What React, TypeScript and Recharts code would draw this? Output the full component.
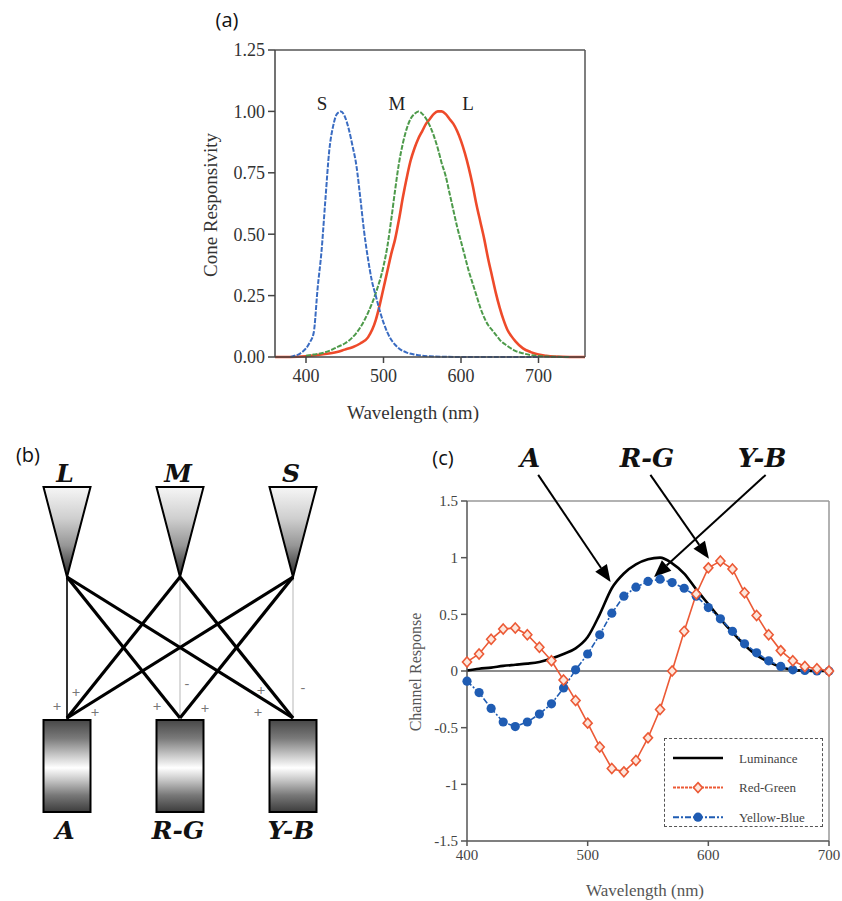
import React from 'react';
import { LineChart, Line, XAxis, YAxis, ReferenceLine, Legend } from 'recharts';

const SERIF = '"Liberation Serif", "Times New Roman", serif';
const BIG = '"DejaVu Serif", "Liberation Serif", serif';
const SANS = '"Open Sans", "Liberation Sans", sans-serif';

// (a) cone fundamentals
const S_WL = [380, 385, 390, 395, 400, 405, 410, 415, 420, 425, 430, 435, 440, 445, 450, 455, 460, 465, 470, 475, 480, 485, 490, 495, 500, 505, 510, 515, 520, 530, 540, 550, 560, 580, 600, 650, 700];
const S_VAL = [0, 0.005, 0.01, 0.02, 0.035, 0.06, 0.1, 0.28, 0.43, 0.64, 0.84, 0.94, 0.99, 1.0, 0.98, 0.93, 0.86, 0.78, 0.65, 0.51, 0.4, 0.31, 0.25, 0.19, 0.14, 0.1, 0.07, 0.05, 0.035, 0.018, 0.01, 0.005, 0.003, 0.001, 0, 0, 0];

const M_WL = [400, 410, 420, 430, 440, 450, 460, 470, 480, 490, 500, 505, 510, 515, 520, 525, 530, 535, 540, 545, 550, 555, 560, 565, 570, 575, 580, 585, 590, 595, 600, 605, 610, 615, 620, 625, 630, 635, 640, 645, 650, 660, 670, 680, 690, 700, 720, 740];
const M_VAL = [0.005, 0.01, 0.015, 0.025, 0.04, 0.055, 0.08, 0.12, 0.18, 0.26, 0.37, 0.45, 0.56, 0.68, 0.79, 0.87, 0.93, 0.97, 0.99, 1.0, 0.99, 0.97, 0.94, 0.9, 0.85, 0.79, 0.74, 0.67, 0.6, 0.53, 0.47, 0.41, 0.35, 0.3, 0.25, 0.2, 0.16, 0.13, 0.11, 0.09, 0.07, 0.045, 0.025, 0.015, 0.008, 0.004, 0.001, 0];

const L_WL = [360, 380, 400, 420, 440, 450, 460, 470, 480, 490, 495, 500, 505, 510, 515, 520, 525, 530, 535, 540, 545, 550, 555, 560, 565, 570, 575, 580, 585, 590, 595, 600, 605, 610, 615, 620, 625, 630, 635, 640, 645, 650, 655, 660, 665, 670, 680, 690, 700, 710, 720, 740, 760];
const L_VAL = [0, 0, 0.003, 0.01, 0.02, 0.03, 0.04, 0.055, 0.08, 0.15, 0.21, 0.28, 0.35, 0.42, 0.48, 0.56, 0.65, 0.73, 0.8, 0.85, 0.89, 0.92, 0.95, 0.97, 0.99, 1.0, 1.0, 0.99, 0.97, 0.95, 0.92, 0.88, 0.83, 0.77, 0.7, 0.62, 0.55, 0.48, 0.4, 0.33, 0.26, 0.2, 0.15, 0.11, 0.085, 0.065, 0.035, 0.02, 0.01, 0.005, 0.002, 0, 0];

const A_YTICKS = [0, 0.25, 0.5, 0.75, 1.0, 1.25];
const A_XTICKS = [400, 500, 600, 700];

// (c) opponent channels
const WL_C = [400, 410, 420, 430, 440, 450, 460, 470, 480, 490, 500, 510, 520, 530, 540, 550, 560, 570, 580, 590, 600, 610, 620, 630, 640, 650, 660, 670, 680, 690, 700];
const LUM = [0.005, 0.02, 0.03, 0.045, 0.055, 0.065, 0.08, 0.11, 0.15, 0.2, 0.3, 0.5, 0.73, 0.86, 0.94, 0.985, 1.0, 0.95, 0.86, 0.72, 0.59, 0.46, 0.34, 0.23, 0.14, 0.08, 0.035, 0.01, 0.003, 0, 0];
const RG = [0.08, 0.15, 0.28, 0.37, 0.38, 0.32, 0.21, 0.09, -0.08, -0.26, -0.46, -0.67, -0.86, -0.89, -0.79, -0.59, -0.34, 0.0, 0.35, 0.68, 0.91, 0.97, 0.9, 0.69, 0.49, 0.32, 0.18, 0.09, 0.04, 0.02, 0.0];
const YB = [-0.09, -0.19, -0.33, -0.45, -0.49, -0.45, -0.38, -0.29, -0.15, 0.01, 0.15, 0.32, 0.51, 0.66, 0.74, 0.79, 0.81, 0.78, 0.73, 0.66, 0.56, 0.46, 0.35, 0.24, 0.16, 0.09, 0.04, 0.01, 0.005, 0, 0];
const C_YTICKS = [-1.5, -1, -0.5, 0, 0.5, 1, 1.5];
const C_XTICKS = [400, 500, 600, 700];

// arrows from the A / R-G / Y-B labels, in data units
const ARROWS = [
  { from: [459, 1.73], to: [519, 0.785] },
  { from: [552, 1.73], to: [600.5, 0.99] },
  { from: [647.5, 1.73], to: [555, 0.83] },
];

const S_COLOR = '#3a6cc2';
const M_COLOR = '#4d9a4a';
const L_COLOR = '#ee4a2a';
const RG_COLOR = '#ec5a36';
const YB_COLOR = '#1f5cb3';

const sData = S_WL.map((w, i) => ({ wl: w, v: S_VAL[i] }));
const mData = M_WL.map((w, i) => ({ wl: w, v: M_VAL[i] }));
const lData = L_WL.map((w, i) => ({ wl: w, v: L_VAL[i] }));
const cData = WL_C.map((w, i) => ({ wl: w, lum: LUM[i], rg: RG[i], yb: YB[i] }));

const Arrow = (props: any) => {
  const { x1, y1, x2, y2 } = props;
  const dx = x2 - x1;
  const dy = y2 - y1;
  const len = Math.hypot(dx, dy) || 1;
  const ux = dx / len;
  const uy = dy / len;
  const hl = 17;
  const hw = 7;
  const bx = x2 - ux * hl;
  const by = y2 - uy * hl;
  return (
    <g>
      <line x1={x1} y1={y1} x2={bx} y2={by} stroke="#000" strokeWidth={2} />
      <polygon points={`${x2},${y2} ${bx - uy * hw},${by + ux * hw} ${bx + uy * hw},${by - ux * hw}`} fill="#000" />
    </g>
  );
};

const Diamond = (props: any) => {
  const { cx, cy, index } = props;
  if (cx == null || cy == null) return <g key={index} />;
  return (
    <path
      key={index}
      d={`M${cx},${cy - 5} L${cx + 4.5},${cy} L${cx},${cy + 5} L${cx - 4.5},${cy} Z`}
      fill="#fde6dc"
      stroke={RG_COLOR}
      strokeWidth={1.6}
    />
  );
};

const Blob = (props: any) => {
  const { cx, cy, index } = props;
  if (cx == null || cy == null) return <g key={index} />;
  return <circle key={index} cx={cx} cy={cy} r={4.6} fill={YB_COLOR} />;
};

function ChannelLegend() {
  const rows = [
    { label: 'Luminance', kind: 'lum' },
    { label: 'Red-Green', kind: 'rg' },
    { label: 'Yellow-Blue', kind: 'yb' },
  ];
  return (
    <div style={{ width: 159, height: 89, border: '1.5px dashed #555', boxSizing: 'border-box', background: '#fff' }}>
      <svg width={156} height={86}>
        {rows.map((r, i) => {
          const y = 19 + i * 29.6;
          return (
            <g key={r.kind}>
              {r.kind === 'lum' && <line x1={8} x2={58} y1={y} y2={y} stroke="#000" strokeWidth={2.5} />}
              {r.kind === 'rg' && (
                <g>
                  <line x1={8} x2={58} y1={y} y2={y} stroke={RG_COLOR} strokeWidth={2} strokeDasharray="3 1" />
                  <path d={`M33,${y - 5} L37.5,${y} L33,${y + 5} L28.5,${y} Z`} fill="#fde6dc" stroke={RG_COLOR} strokeWidth={1.6} />
                </g>
              )}
              {r.kind === 'yb' && (
                <g>
                  <line x1={8} x2={58} y1={y} y2={y} stroke={YB_COLOR} strokeWidth={2} strokeDasharray="6 2 2 2" />
                  <circle cx={33} cy={y} r={4.6} fill={YB_COLOR} />
                </g>
              )}
              <text x={74} y={y} dominantBaseline="central" fontFamily={SERIF} fontSize={13} fill="#444">
                {r.label}
              </text>
            </g>
          );
        })}
      </svg>
    </div>
  );
}

function ConeChart() {
  return (
    <LineChart width={470} height={430} margin={{ top: 50, right: 35, bottom: 43, left: 70 }}>
      <XAxis
        dataKey="wl"
        type="number"
        domain={[360, 760]}
        ticks={A_XTICKS}
        height={30}
        tickSize={6}
        tickMargin={6}
        axisLine={{ stroke: '#444', strokeWidth: 1.5 }}
        tickLine={{ stroke: '#444', strokeWidth: 1.5 }}
        tick={{ fontSize: 18, fill: '#333', fontFamily: SERIF }}
      />
      <YAxis
        type="number"
        domain={[0, 1.25]}
        ticks={A_YTICKS}
        width={55}
        tickSize={7}
        tickMargin={3}
        tickFormatter={(v: number) => v.toFixed(2)}
        axisLine={{ stroke: '#444', strokeWidth: 1.5 }}
        tickLine={{ stroke: '#444', strokeWidth: 1.5 }}
        tick={{ fontSize: 18, fill: '#333', fontFamily: SERIF }}
      />
      <ReferenceLine y={1.25} stroke="#555" strokeWidth={1.5} />
      <ReferenceLine x={760} stroke="#555" strokeWidth={1.5} />
      <Line data={lData} dataKey="v" name="L" type="monotone" stroke={L_COLOR} strokeWidth={2.6} dot={false} isAnimationActive={false} />
      <Line data={mData} dataKey="v" name="M" type="monotone" stroke={M_COLOR} strokeWidth={2} strokeDasharray="5 1.5" dot={false} isAnimationActive={false} />
      <Line data={sData} dataKey="v" name="S" type="monotone" stroke={S_COLOR} strokeWidth={2} strokeDasharray="5 1.5" dot={false} isAnimationActive={false} />
    </LineChart>
  );
}

function ChannelChart() {
  return (
    <LineChart width={502} height={471} data={cData} margin={{ top: 71, right: 13, bottom: 30, left: 82 }}>
      <XAxis
        dataKey="wl"
        type="number"
        domain={[400, 700]}
        ticks={C_XTICKS}
        height={30}
        tickSize={5}
        tickMargin={3}
        axisLine={{ stroke: '#555', strokeWidth: 1.5 }}
        tickLine={{ stroke: '#555', strokeWidth: 1.5 }}
        tick={{ fontSize: 15, fill: '#444', fontFamily: SERIF }}
      />
      <YAxis
        type="number"
        domain={[-1.5, 1.5]}
        ticks={C_YTICKS}
        width={45}
        tickSize={6}
        tickMargin={3}
        axisLine={{ stroke: '#555', strokeWidth: 1.5 }}
        tickLine={{ stroke: '#555', strokeWidth: 1.5 }}
        tick={{ fontSize: 15, fill: '#444', fontFamily: SERIF }}
      />
      <ReferenceLine y={1.5} stroke="#999" strokeWidth={1.5} />
      <ReferenceLine x={700} stroke="#999" strokeWidth={1.5} />
      <ReferenceLine y={0} stroke="#666" strokeWidth={1.5} />
      <Line dataKey="lum" name="Luminance" type="monotone" stroke="#000" strokeWidth={2.6} dot={false} isAnimationActive={false} />
      <Line dataKey="yb" name="Yellow-Blue" type="linear" stroke={YB_COLOR} strokeWidth={1.6} strokeDasharray="6 2 2 2" dot={<Blob />} isAnimationActive={false} />
      <Line dataKey="rg" name="Red-Green" type="linear" stroke={RG_COLOR} strokeWidth={1.6} dot={<Diamond />} isAnimationActive={false} />
      {ARROWS.map((a, i) => (
        <ReferenceLine
          key={i}
          segment={[
            { x: a.from[0], y: a.from[1] },
            { x: a.to[0], y: a.to[1] },
          ]}
          ifOverflow="visible"
          shape={<Arrow />}
        />
      ))}
      <Legend
        layout="vertical"
        align="center"
        verticalAlign="middle"
        content={() => <ChannelLegend />}
        wrapperStyle={{ left: 324, top: 308, width: 159, height: 89 }}
      />
    </LineChart>
  );
}

function Diagram() {
  const tipY = 577;
  const topY = 720;
  const xs = [67, 180, 293];
  const thick = [
    [0, 1],
    [0, 2],
    [1, 0],
    [1, 2],
    [2, 0],
    [2, 1],
  ];
  const signs = [
    { x: 76, y: 692, t: '+' },
    { x: 57, y: 706, t: '+' },
    { x: 95, y: 712, t: '+' },
    { x: 157, y: 706, t: '+' },
    { x: 187, y: 683, t: '-' },
    { x: 205, y: 708, t: '+' },
    { x: 261, y: 690, t: '+' },
    { x: 258, y: 712, t: '+' },
    { x: 303, y: 687, t: '-' },
  ];
  return (
    <g>
      <defs>
        <linearGradient id="cone" x1="0" y1="0" x2="0" y2="1">
          <stop offset="0" stopColor="#f6f6f6" />
          <stop offset="0.35" stopColor="#cfcfcf" />
          <stop offset="0.65" stopColor="#969696" />
          <stop offset="0.88" stopColor="#4c4c4c" />
          <stop offset="1" stopColor="#2e2e2e" />
        </linearGradient>
        <linearGradient id="cell" x1="0" y1="0" x2="0" y2="1">
          <stop offset="0" stopColor="#474747" />
          <stop offset="0.2" stopColor="#7a7a7a" />
          <stop offset="0.4" stopColor="#cfcfcf" />
          <stop offset="0.52" stopColor="#ffffff" />
          <stop offset="0.65" stopColor="#c8c8c8" />
          <stop offset="0.82" stopColor="#777" />
          <stop offset="1" stopColor="#3c3c3c" />
        </linearGradient>
      </defs>
      <line x1={xs[0]} y1={tipY} x2={xs[0]} y2={topY} stroke="#000" strokeWidth={1.6} />
      <line x1={xs[1]} y1={tipY} x2={xs[1]} y2={topY} stroke="#cfcfcf" strokeWidth={1.5} />
      <line x1={xs[2]} y1={tipY} x2={xs[2]} y2={topY} stroke="#cfcfcf" strokeWidth={1.5} />
      {thick.map(([a, b], i) => (
        <line key={i} x1={xs[a]} y1={tipY} x2={xs[b]} y2={topY - 2} stroke="#000" strokeWidth={3.2} />
      ))}
      {xs.map((x, i) => (
        <polygon key={'t' + i} points={`${x - 23.5},487 ${x + 23.5},487 ${x},${tipY}`} fill="url(#cone)" stroke="#000" strokeWidth={2} strokeLinejoin="miter" />
      ))}
      {xs.map((x, i) => (
        <rect key={'r' + i} x={x - 23.5} y={topY} width={47} height={92} fill="url(#cell)" stroke="#000" strokeWidth={2} />
      ))}
      {signs.map((s, i) => (
        <text key={'s' + i} x={s.x} y={s.y} textAnchor="middle" dominantBaseline="central" fontFamily={SANS} fontSize={15} fill="#777">
          {s.t}
        </text>
      ))}
      {['L', 'M', 'S'].map((t, i) => (
        <text key={'c' + t} x={xs[i] - 2} y={482} textAnchor="middle" fontFamily={BIG} fontStyle="italic" fontWeight="bold" fontSize={25} fill="#111">
          {t}
        </text>
      ))}
      {['A', 'R-G', 'Y-B'].map((t, i) => (
        <text key={'o' + t} x={xs[i] - 2} y={839} textAnchor="middle" fontFamily={BIG} fontStyle="italic" fontWeight="bold" fontSize={25} fill="#111">
          {t}
        </text>
      ))}
    </g>
  );
}

export default function App() {
  return (
    <div style={{ position: 'absolute', left: 0, top: 0, width: 842, height: 901, background: '#fff', overflow: 'hidden' }}>
      <div style={{ position: 'absolute', left: 150, top: 0 }}>
        <ConeChart />
      </div>
      <div style={{ position: 'absolute', left: 340, top: 430 }}>
        <ChannelChart />
      </div>
      <svg width={842} height={901} style={{ position: 'absolute', left: 0, top: 0, pointerEvents: 'none' }}>
        <text x={227} y={27} textAnchor="middle" fontFamily={SANS} fontSize={20} fill="#111">(a)</text>
        <text x={28} y={462} textAnchor="middle" fontFamily={SANS} fontSize={20} fill="#111">(b)</text>
        <text x={443} y={465} textAnchor="middle" fontFamily={SANS} fontSize={20} fill="#111">(c)</text>

        <text x={322} y={110} textAnchor="middle" fontFamily={SERIF} fontSize={19} fill="#222">S</text>
        <text x={397} y={110} textAnchor="middle" fontFamily={SERIF} fontSize={19} fill="#222">M</text>
        <text x={468} y={110} textAnchor="middle" fontFamily={SERIF} fontSize={19} fill="#222">L</text>
        <text x={210} y={205} textAnchor="middle" dominantBaseline="central" transform="rotate(-90 210 205)" fontFamily={SERIF} fontSize={19} fill="#333">
          Cone Responsivity
        </text>
        <text x={413} y={412} textAnchor="middle" dominantBaseline="central" fontFamily={SERIF} fontSize={19} fill="#333">
          Wavelength (nm)
        </text>

        <text x={530} y={467} textAnchor="middle" fontFamily={BIG} fontStyle="italic" fontWeight="bold" fontSize={26} fill="#111">A</text>
        <text x={647} y={467} textAnchor="middle" fontFamily={BIG} fontStyle="italic" fontWeight="bold" fontSize={26} fill="#111">R-G</text>
        <text x={762} y={467} textAnchor="middle" fontFamily={BIG} fontStyle="italic" fontWeight="bold" fontSize={26} fill="#111">Y-B</text>
        <text x={415} y={672} textAnchor="middle" dominantBaseline="central" transform="rotate(-90 415 672)" fontFamily={SERIF} fontSize={16} fill="#555">
          Channel Response
        </text>
        <text x={645} y={890} textAnchor="middle" dominantBaseline="central" fontFamily={SERIF} fontSize={17} fill="#555">
          Wavelength (nm)
        </text>

        <Diagram />
      </svg>
    </div>
  );
}
